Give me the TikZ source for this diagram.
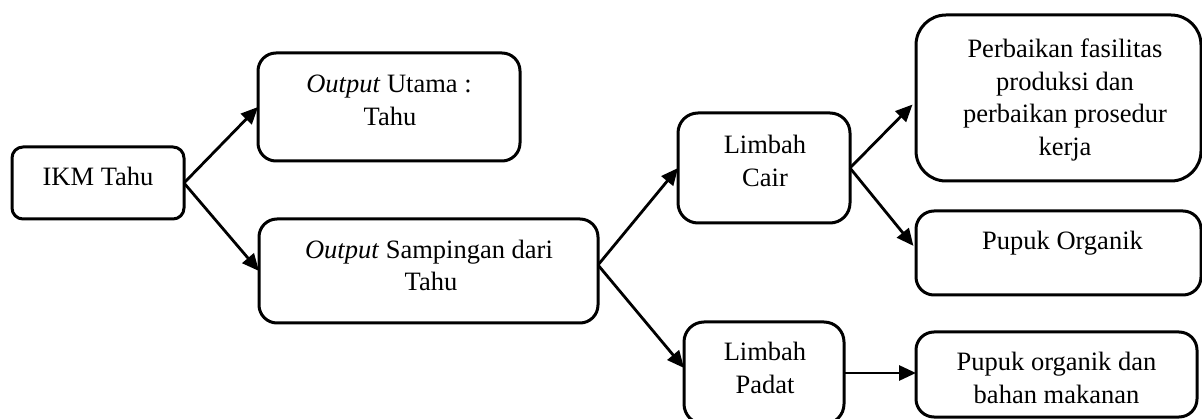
\documentclass[tikz,border=0pt]{standalone}
\usepackage{fontspec}
\setmainfont{Liberation Serif}
\usetikzlibrary{arrows.meta}
\begin{document}
\begin{tikzpicture}[x=1pt,y=-1pt,
  box/.style={draw=black, line width=3pt, inner sep=0pt, outer sep=0pt, rounded corners=#1},
  box/.default=18pt,
  txt/.style={anchor=base, inner sep=0pt, font=\fontsize{26.5}{32}\selectfont},
  flow/.style={line width=2.8pt, -{Triangle[length=17pt,width=15pt]}}]
\clip (0,0) rectangle (1202,419);

% boxes
\node[box=11pt, minimum width=172pt, minimum height=72pt]  (ikm)   at (98,183)      {};
\node[box, minimum width=262pt, minimum height=108pt]      (utama) at (389,107)     {};
\node[box, minimum width=339pt, minimum height=104pt]      (samp)  at (428.5,271)   {};
\node[box=20pt, minimum width=172pt, minimum height=110pt] (cair)  at (764,168)     {};
\node[box=20pt, minimum width=160pt, minimum height=102pt] (padat) at (764,373)     {};
\node[box=30pt, minimum width=285pt, minimum height=166pt] (perb)  at (1058.5,98)   {};
\node[box, minimum width=285pt, minimum height=84pt]       (porg)  at (1058.5,253)  {};
\node[box, minimum width=281pt, minimum height=85pt]       (pod)   at (1056.5,374.5){};

% labels
\node[txt] (ikm-a)   at (98,186)    {IKM Tahu};
\node[txt] (utama-a) at (389,93)    {\textit{Output} Utama :};
\node[txt] (utama-b) at (390,126)   {Tahu};
\node[txt] (samp-a)  at (429,259)   {\textit{Output} Sampingan dari};
\node[txt] (samp-b)  at (431,291)   {Tahu};
\node[txt] (cair-a)  at (765,154)   {Limbah};
\node[txt] (cair-b)  at (765,187)   {Cair};
\node[txt] (padat-a) at (765,361)   {Limbah};
\node[txt] (padat-b) at (765,393)   {Padat};
\node[txt] (perb-a)  at (1065,58)   {Perbaikan fasilitas};
\node[txt] (perb-b)  at (1065,91)   {produksi dan};
\node[txt] (perb-c)  at (1065,123)  {perbaikan prosedur};
\node[txt] (perb-d)  at (1065,156)  {kerja};
\node[txt] (porg-a)  at (1062.5,250){Pupuk Organik};
\node[txt] (pod-a)   at (1056.5,371){Pupuk organik dan};
\node[txt] (pod-b)   at (1056.5,403){bahan makanan};

% connectors
\draw[flow] (ikm.east) -- (utama.west);
\draw[flow] (ikm.east) -- (samp.west);
\draw[flow] ([yshift=6pt]samp.east) -- (cair.west);
\draw[flow] ([yshift=6pt]samp.east) -- ([yshift=5pt]padat.west);
\draw[flow, shorten >=5pt] (cair.east) -- ([yshift=-3pt]perb.west);
\draw[flow, shorten >=4pt] (cair.east) -- ([yshift=4pt]porg.west);
\draw[flow] (padat.east) -- (padat.east -| pod.west);
\end{tikzpicture}
\end{document}
